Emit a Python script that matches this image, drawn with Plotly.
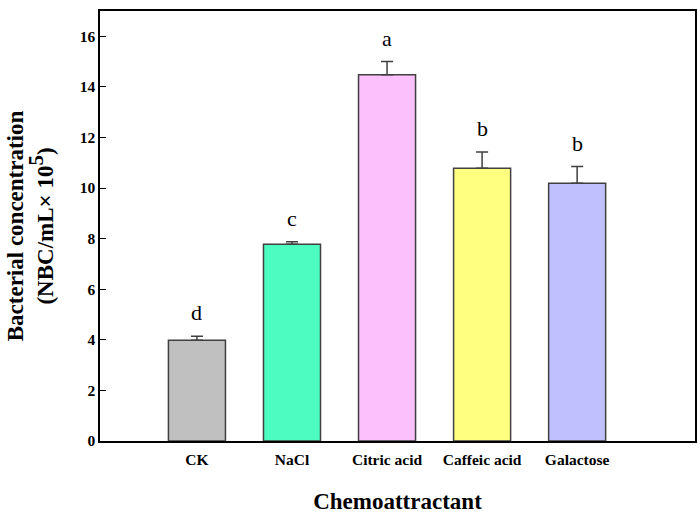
import plotly.graph_objects as go

# Chemotaxis assay data
categories = ["CK", "NaCl", "Citric acid", "Caffeic acid", "Galactose"]
concentration = [3.98, 7.78, 14.48, 10.78, 10.19]
std_err = [0.16, 0.10, 0.52, 0.65, 0.66]
letters = ["d", "c", "a", "b", "b"]
bar_colors = ["#c0c0c0", "#4dfcc0", "#fcc0fc", "#ffff80", "#c0c0ff"]

FONT = "Liberation Serif, Times New Roman, serif"

fig = go.Figure()
fig.add_trace(go.Bar(
    x=categories,
    y=concentration,
    width=0.6,
    marker=dict(color=bar_colors, line=dict(color="#404040", width=1.5)),
    error_y=dict(type="data", array=std_err, symmetric=False,
                 arrayminus=[0] * len(std_err), color="#404040",
                 thickness=1.5, width=6),
))

# significance letters above the error bars
for cat, val, err, lab in zip(categories, concentration, std_err, letters):
    fig.add_annotation(x=cat, y=val + err, text=lab, showarrow=False,
                       yanchor="bottom", yshift=9,
                       font=dict(family=FONT, size=22, color="black"))

fig.update_layout(
    width=700, height=518,
    margin=dict(l=100, r=3, t=11, b=77),
    plot_bgcolor="white", paper_bgcolor="white",
    showlegend=False,
    font=dict(family=FONT, color="black"),
    xaxis=dict(
        range=[-1.02, 5.24],
        showline=True, linecolor="black", linewidth=1.5, mirror=True,
        ticks="", showgrid=False, ticklabelstandoff=4,
        tickfont=dict(family=FONT, size=15.5, color="black", weight="bold"),
        title=dict(text="Chemoattractant", standoff=26,
                   font=dict(family=FONT, size=23, weight="bold")),
    ),
    yaxis=dict(
        range=[0, 17], dtick=2,
        showline=True, linecolor="black", linewidth=1.5, mirror=True,
        ticks="inside", ticklen=6, tickcolor="black", showgrid=False,
        zeroline=False,
        tickfont=dict(family=FONT, size=15.5, color="black", weight="bold"),
        title=dict(text="Bacterial concentration<br>(NBC/mL× 10"
                        "<sup><span style='font-size:21px'>5</span></sup>)",
                   standoff=20,
                   font=dict(family=FONT, size=23, weight="bold")),
    ),
)

fig.write_html("out.html", config={"displayModeBar": False},
               post_script="document.body.style.margin='0';")
